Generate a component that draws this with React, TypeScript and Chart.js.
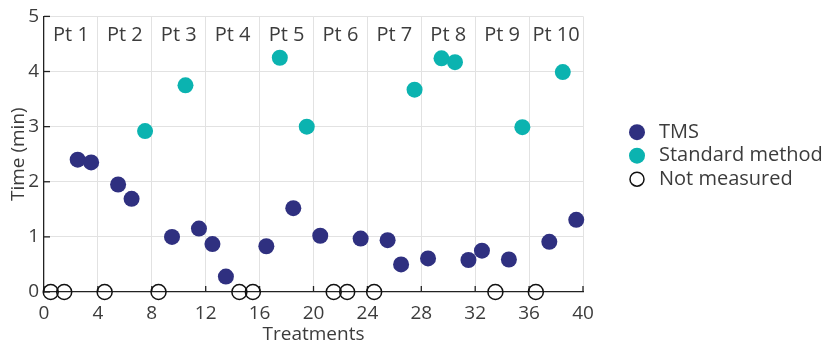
import React, { useEffect, useRef } from "react";
import { Chart, registerables } from "chart.js";

Chart.register(...registerables);

// ---- data ----
const patientLabels = ["Pt 1", "Pt 2", "Pt 3", "Pt 4", "Pt 5", "Pt 6", "Pt 7", "Pt 8", "Pt 9", "Pt 10"];
const patientCenters = [2, 6, 10, 14, 18, 22, 26, 30, 34, 38];

const tmsX = [2.5, 3.5, 5.5, 6.5, 9.5, 11.5, 12.5, 13.5, 16.5, 18.5, 20.5, 23.5, 25.5, 26.5, 28.5, 31.5, 32.5, 34.5, 37.5, 39.5];
const tmsY = [2.4, 2.35, 1.95, 1.69, 1.0, 1.15, 0.87, 0.28, 0.83, 1.52, 1.02, 0.97, 0.94, 0.5, 0.61, 0.58, 0.75, 0.59, 0.91, 1.31];

const stdX = [7.5, 10.5, 17.5, 19.5, 27.5, 29.5, 30.5, 35.5, 38.5];
const stdY = [2.92, 3.75, 4.25, 3.0, 3.67, 4.24, 4.17, 2.99, 3.99];

const nmX = [0.5, 1.5, 4.5, 8.5, 14.5, 15.5, 21.5, 22.5, 24.5, 33.5, 36.5];
const nmY = [0, 0, 0, 0, 0, 0, 0, 0, 0, 0, 0];

const seriesNames = ["TMS", "Standard method", "Not measured"];

const FONT = "'Open Sans', 'DejaVu Sans', sans-serif";
const TEXT = "#3c3c3c";
const NAVY = "#2f3080";
const TEAL = "#0bb3b0";
const GRID = "#e2e2e2";
const AXIS = "#222222";

const toPoints = (xs: number[], ys: number[]) => xs.map((x, i) => ({ x, y: ys[i] }));

export default function App() {
  const canvasRef = useRef<HTMLCanvasElement>(null);

  useEffect(() => {
    const canvas = canvasRef.current;
    if (!canvas) return;

    const decorPlugin = {
      id: "decor",
      beforeDatasetsDraw(chart: any) {
        const { ctx, chartArea, scales } = chart;
        const xs = scales.x;
        const ys = scales.y;
        ctx.save();
        // inward ticks
        ctx.strokeStyle = AXIS;
        ctx.lineWidth = 1.3;
        const tl = 6;
        ys.ticks.forEach((t: any) => {
          const py = ys.getPixelForValue(t.value);
          ctx.beginPath();
          ctx.moveTo(chartArea.left, py);
          ctx.lineTo(chartArea.left + tl, py);
          ctx.stroke();
        });
        xs.ticks.forEach((t: any) => {
          const px = xs.getPixelForValue(t.value);
          ctx.beginPath();
          ctx.moveTo(px, chartArea.bottom);
          ctx.lineTo(px, chartArea.bottom - tl);
          ctx.stroke();
        });
        // patient labels
        ctx.fillStyle = TEXT;
        ctx.font = `20px ${FONT}`;
        ctx.textAlign = "center";
        ctx.textBaseline = "middle";
        const ly = ys.getPixelForValue(5) + 19;
        patientLabels.forEach((lab, i) => {
          ctx.fillText(lab, xs.getPixelForValue(patientCenters[i]), ly);
        });
        ctx.restore();
      },
      afterDraw(chart: any) {
        const { ctx, chartArea } = chart;
        const ds = chart.data.datasets;
        const mx = chartArea.right + 54;
        const tx = chartArea.right + 76;
        const midY = (chartArea.top + chartArea.bottom) / 2;
        const gap = 23.5;
        ctx.save();
        ctx.font = `20px ${FONT}`;
        ctx.textAlign = "left";
        ctx.textBaseline = "middle";
        ds.forEach((d: any, i: number) => {
          const y = midY - 22 + i * gap;
          ctx.beginPath();
          ctx.arc(mx, y, i === 2 ? 7 : 8, 0, Math.PI * 2);
          if (i === 2) {
            ctx.fillStyle = "#ffffff";
            ctx.fill();
            ctx.lineWidth = 1.5;
            ctx.strokeStyle = d.borderColor;
            ctx.stroke();
          } else {
            ctx.fillStyle = d.backgroundColor;
            ctx.fill();
          }
          ctx.fillStyle = TEXT;
          ctx.fillText(d.label, tx, y);
        });
        ctx.restore();
      },
    };

    const chart = new Chart(canvas, {
      type: "scatter",
      data: {
        datasets: [
          {
            label: seriesNames[0],
            data: toPoints(tmsX, tmsY),
            backgroundColor: NAVY,
            borderColor: NAVY,
            borderWidth: 0,
            pointRadius: 8,
            clip: false,
          },
          {
            label: seriesNames[1],
            data: toPoints(stdX, stdY),
            backgroundColor: TEAL,
            borderColor: TEAL,
            borderWidth: 0,
            pointRadius: 8,
            clip: false,
          },
          {
            label: seriesNames[2],
            data: toPoints(nmX, nmY),
            backgroundColor: "rgba(0,0,0,0)",
            borderColor: "#111111",
            borderWidth: 1.5,
            pointRadius: 7.5,
            clip: false,
          },
        ],
      } as any,
      options: {
        animation: false,
        responsive: false,
        layout: { padding: { top: 12, right: 244, left: 0, bottom: 0 } },
        plugins: {
          legend: { display: false },
          tooltip: { enabled: false },
        },
        scales: {
          x: {
            type: "linear",
            min: 0,
            max: 40,
            ticks: {
              stepSize: 4,
              font: { family: FONT, size: 19 },
              color: TEXT,
              padding: 10,
              maxRotation: 0,
            },
            grid: {
              color: (c: any) => (c.tick && c.tick.value === 0 ? "rgba(0,0,0,0)" : GRID),
              lineWidth: 1,
              drawTicks: false,
            },
            border: { color: AXIS, width: 1.3 },
            title: {
              display: true,
              text: "Treatments",
              font: { family: FONT, size: 19 },
              color: TEXT,
              padding: { top: 0, bottom: 0 },
            },
            afterFit: (s: any) => {
              s.height = 54;
            },
          },
          y: {
            type: "linear",
            min: 0,
            max: 5,
            ticks: {
              stepSize: 1,
              font: { family: FONT, size: 19 },
              color: TEXT,
              padding: 5,
            },
            grid: {
              color: (c: any) => (c.tick && c.tick.value === 0 ? "rgba(0,0,0,0)" : GRID),
              lineWidth: 1,
              drawTicks: false,
            },
            border: { color: AXIS, width: 1.3 },
            title: {
              display: true,
              text: "Time (min)",
              font: { family: FONT, size: 19 },
              color: TEXT,
              padding: { top: 7, bottom: 0 },
            },
            afterFit: (s: any) => {
              s.width = 44;
            },
          },
        },
      } as any,
      plugins: [decorPlugin],
    });

    return () => chart.destroy();
  }, []);

  return (
    <div style={{ position: "fixed", left: 0, top: 0, width: 827, height: 346, background: "#ffffff" }}>
      <canvas ref={canvasRef} width={827} height={346} style={{ display: "block" }} />
    </div>
  );
}
